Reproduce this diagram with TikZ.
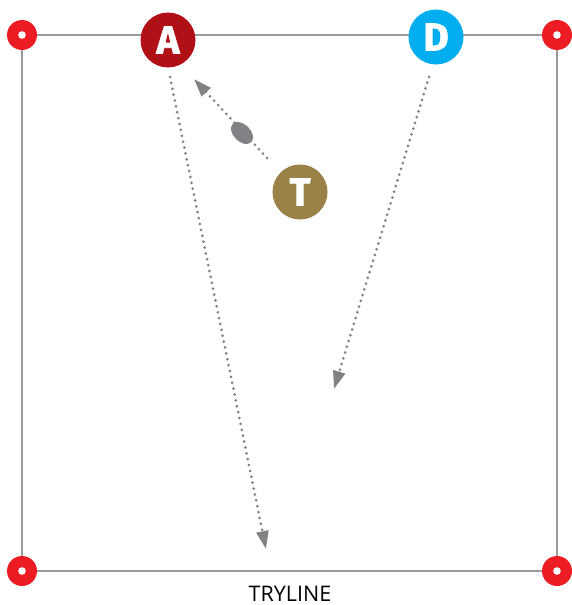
\documentclass[tikz,border=0pt]{standalone}
\usepackage{fontspec}
\setmainfont{Open Sans}
\newfontfamily\heavyfont[BoldFeatures={FakeBold=1.6}]{Fira Sans}
\usetikzlibrary{arrows.meta,shapes.geometric}
\definecolor{fieldgray}{HTML}{9A9A9A}
\definecolor{pathgray}{HTML}{808285}
\definecolor{conered}{HTML}{ED1C24}
\definecolor{attred}{HTML}{B01117}
\definecolor{defblue}{HTML}{00AEEF}
\definecolor{tgold}{HTML}{9A8147}
\tikzset{
  cone/.style={circle,fill=conered,minimum size=30pt,inner sep=0pt,
    path picture={\fill[white] (path picture bounding box.center) circle (3.8pt);}},
  player/.style={circle,minimum size=55pt,inner sep=0pt,text=white,
    font=\heavyfont\bfseries\fontsize{39}{39}\selectfont},
  run/.style={pathgray,line width=3pt,line cap=round,dash pattern=on 0pt off 6pt,
    -{Triangle[length=18pt,width=12pt,line cap=butt]}},
  ballst/.style={ellipse,fill=pathgray,minimum width=26pt,minimum height=17pt,inner sep=0pt,rotate=-45}
}
\begin{document}
\begin{tikzpicture}[x=1pt,y=-1pt]
\useasboundingbox (0,0) rectangle (571,605);
% field
\coordinate (c1) at (22,35);
\coordinate (c2) at (557,35);
\coordinate (c3) at (557,571);
\coordinate (c4) at (22,571);
\draw[fieldgray,line width=1.3pt] (c1) -- (c2) -- (c3) -- (c4) -- cycle;
\node[cone] (k1) at (c1) {};
\node[cone] (k2) at (c2) {};
\node[cone] (k3) at (c3) {};
\node[cone] (k4) at (c4) {};
% players
\node[player,fill=attred] (A) at (168,40) {A};
\node[player,fill=defblue] (D) at (436,37) {D};
\node[player,fill=tgold] (T) at (300,192) {T};
% run paths
\coordinate (a0) at (170,77);
\coordinate (a1) at (266,549);
\coordinate (d0) at (429,77);
\coordinate (d1) at (334,389);
\coordinate (t0) at (267,158);
\coordinate (t1) at (194,79);
\draw[run] (a0) -- (a1);
\draw[run] (d0) -- (d1);
\draw[run] (t0) -- (t1);
\node[ballst] (ball) at (242,133) {};
% label
\node[font=\fontsize{21.5}{21.5}\selectfont,anchor=base] (try) at (290,601) {TRYLINE};
\end{tikzpicture}
\end{document}
